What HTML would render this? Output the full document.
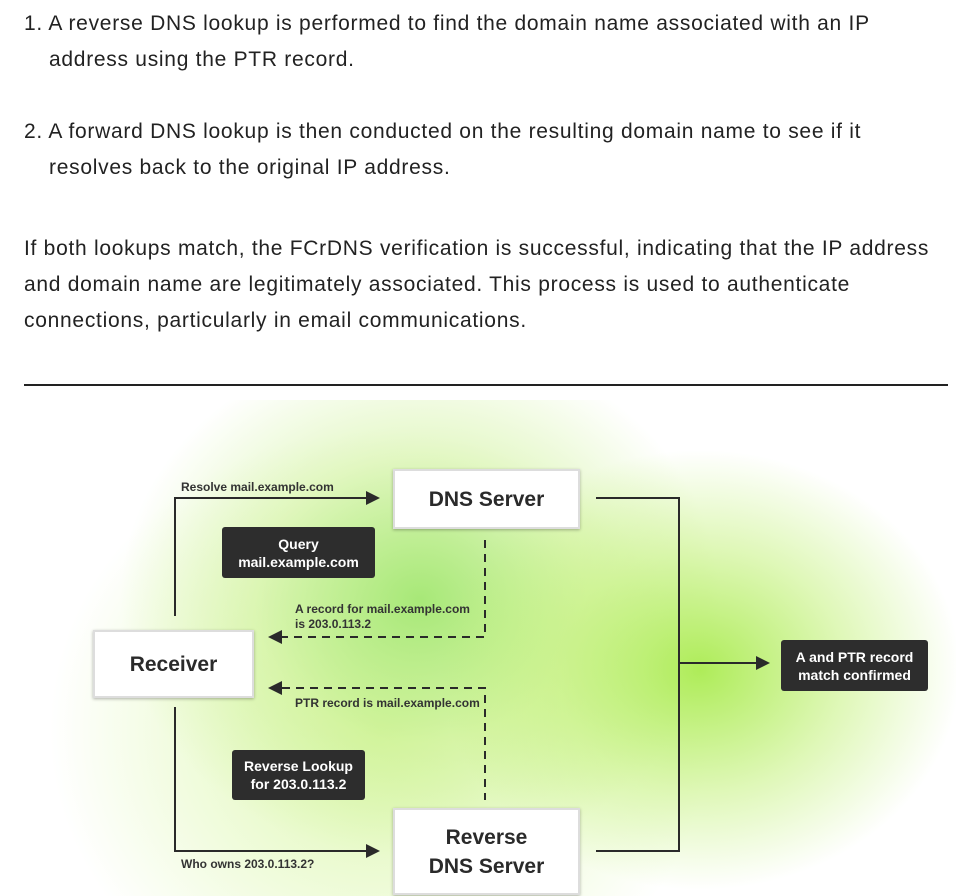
<!DOCTYPE html>
<html><head><meta charset="utf-8"><style>
body{margin:0;width:956px;height:896px;overflow:hidden;background:#fff;font-family:"Liberation Sans",sans-serif;color:#222;position:relative}
.t{position:absolute;font-size:21px;letter-spacing:0.72px;line-height:36px;color:#222;white-space:nowrap}
.bg{position:absolute;left:0;top:400px;width:956px;height:496px;
background:radial-gradient(ellipse 260px 220px at 700px 270px,rgba(170,235,80,0.95),rgba(190,240,110,0.5) 55%,rgba(255,255,255,0) 100%),
radial-gradient(ellipse 300px 260px at 420px 200px,rgba(160,230,110,0.9),rgba(200,240,140,0.5) 55%,rgba(255,255,255,0) 100%),
radial-gradient(ellipse 330px 300px at 380px 330px,rgba(210,245,150,0.8),rgba(255,255,255,0) 100%)}
.box{position:absolute;background:#fff;border:2px solid #ddd;box-shadow:0 1px 3px rgba(0,0,0,.3);display:flex;align-items:center;justify-content:center;text-align:center;font-weight:bold;color:#2a2a2a;font-size:21px;line-height:29px}
.dk{position:absolute;background:#2d2d2d;color:#fff;border-radius:3px;display:flex;align-items:center;justify-content:center;text-align:center;font-weight:bold;font-size:14px;line-height:18px}
.l{position:absolute;font-size:12px;font-weight:bold;color:#333;line-height:15px;white-space:nowrap}
</style></head><body>
<div class="t" style="left:24px;top:6px">1. A reverse DNS lookup is performed to find the domain name associated with an IP</div>
<div class="t" style="left:49px;top:42px">address using the PTR record.</div>
<div class="t" style="left:24px;top:114px">2. A forward DNS lookup is then conducted on the resulting domain name to see if it</div>
<div class="t" style="left:49px;top:150px">resolves back to the original IP address.</div>
<div class="t" style="left:24px;top:231px">If both lookups match, the FCrDNS verification is successful, indicating that the IP address</div>
<div class="t" style="left:24px;top:267px">and domain name are legitimately associated. This process is used to authenticate</div>
<div class="t" style="left:24px;top:303px">connections, particularly in email communications.</div>
<div style="position:absolute;left:24px;top:384px;width:924px;height:2px;background:#222"></div>
<div class="bg"></div>
<svg style="position:absolute;left:0;top:0" width="956" height="896">
<g stroke="#2a2a2a" stroke-width="2" fill="none">
<polyline points="175,616 175,498 368,498"/>
<polyline points="175,707 175,851 368,851"/>
<polyline points="596,498 679,498 679,851 596,851"/>
<line x1="679" y1="663" x2="758" y2="663"/>
<polyline points="485,540 485,637 282,637" stroke-dasharray="8,6"/>
<polyline points="282,688 485,688 485,800" stroke-dasharray="8,6"/>
</g>
<g fill="#2a2a2a">
<polygon points="380,498 366,491 366,505"/>
<polygon points="380,851 366,844 366,858"/>
<polygon points="770,663 756,656 756,670"/>
<polygon points="268,637 282,630 282,644"/>
<polygon points="268,688 282,681 282,695"/>
</g>
</svg>
<div class="box" style="left:393px;top:469px;width:183px;height:56px">DNS Server</div>
<div class="box" style="left:93px;top:630px;width:157px;height:64px">Receiver</div>
<div class="box" style="left:393px;top:808px;width:183px;height:83px">Reverse<br>DNS Server</div>
<div class="dk" style="left:222px;top:527px;width:153px;height:51px">Query<br>mail.example.com</div>
<div class="dk" style="left:232px;top:750px;width:133px;height:50px">Reverse Lookup<br>for 203.0.113.2</div>
<div class="dk" style="left:781px;top:640px;width:147px;height:51px">A and PTR record<br>match confirmed</div>
<div class="l" style="left:181px;top:480px">Resolve mail.example.com</div>
<div class="l" style="left:295px;top:602px">A record for mail.example.com<br>is 203.0.113.2</div>
<div class="l" style="left:295px;top:696px">PTR record is mail.example.com</div>
<div class="l" style="left:181px;top:857px">Who owns 203.0.113.2?</div>
</body></html>
